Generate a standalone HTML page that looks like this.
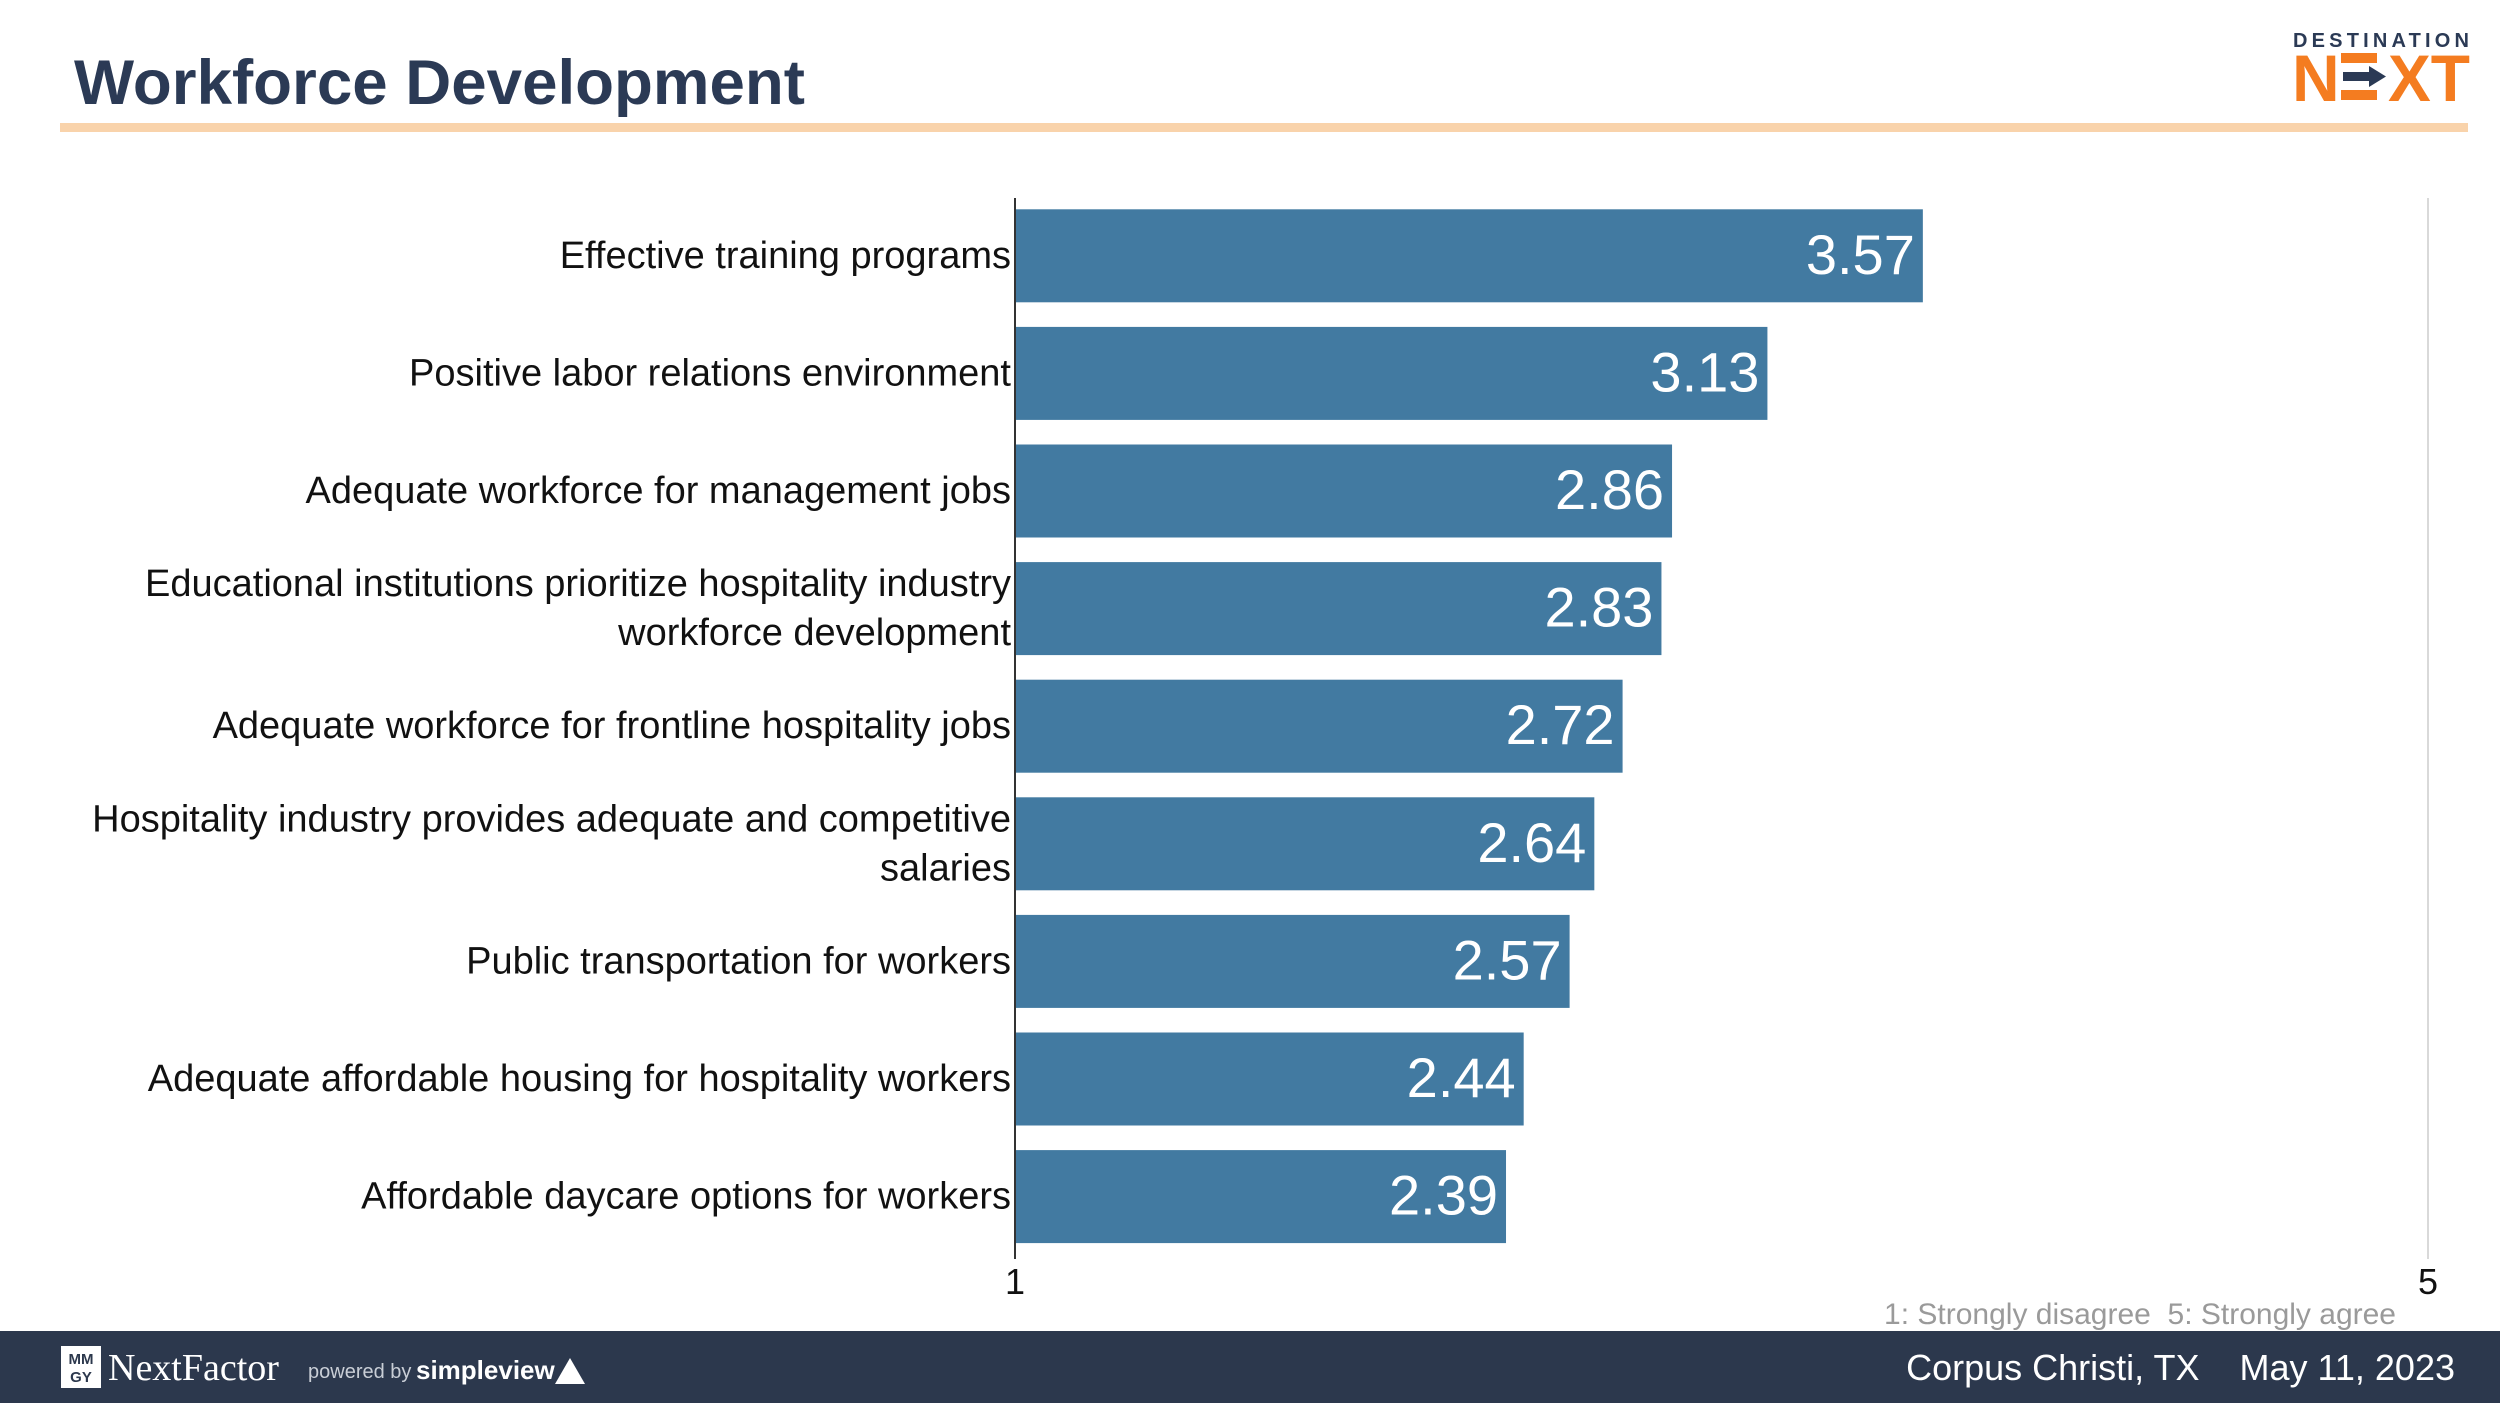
<!DOCTYPE html>
<html><head><meta charset="utf-8">
<style>
html,body{margin:0;padding:0;background:#fff;}
body{width:2500px;height:1407px;overflow:hidden;position:relative;font-family:"Liberation Sans",sans-serif;}
</style></head>
<body>
<svg id="chart" width="2500" height="1407" viewBox="0 0 2500 1407" xmlns="http://www.w3.org/2000/svg" style="position:absolute;left:0;top:0">
  <text x="74" y="104" font-family="Liberation Sans, sans-serif" font-weight="bold" font-size="63" fill="#2b3a55" textLength="731" lengthAdjust="spacingAndGlyphs">Workforce Development</text>
  <rect x="60" y="123" width="2408" height="9" fill="#f9d3ab"/>
  <g>
    <text x="2293" y="47" font-family="Liberation Sans, sans-serif" font-weight="bold" font-size="20" fill="#2b3a55" textLength="176" lengthAdjust="spacing">DESTINATION</text>
    <text x="2292" y="101" font-family="Liberation Sans, sans-serif" font-weight="bold" font-size="66" fill="#f47c20">N</text>
    <text x="2388" y="101" font-family="Liberation Sans, sans-serif" font-weight="bold" font-size="66" fill="#f47c20" textLength="82" lengthAdjust="spacingAndGlyphs">XT</text>
    <rect x="2341" y="53" width="36" height="10" fill="#f47c20"/>
    <rect x="2341" y="90" width="36" height="10" fill="#f47c20"/>
    <rect x="2343" y="72" width="26" height="9" fill="#2b3a55"/>
    <polygon points="2369,66 2386,76.5 2369,87" fill="#2b3a55"/>
  </g>
  <g id="plot"></g>
  <rect x="0" y="1331" width="2500" height="72" fill="#2c384d"/>
  <g>
    <rect x="61" y="1346" width="40" height="42" fill="#fff"/>
    <text x="81" y="1364" font-family="Liberation Sans, sans-serif" font-weight="bold" font-size="15" fill="#2c384d" text-anchor="middle">MM</text>
    <text x="81" y="1382" font-family="Liberation Sans, sans-serif" font-weight="bold" font-size="15" fill="#2c384d" text-anchor="middle">GY</text>
    <text x="108" y="1380" font-family="Liberation Serif, serif" font-size="38" fill="#fff">NextFactor</text>
    <text x="308" y="1378" font-family="Liberation Sans, sans-serif" font-size="20" fill="#c9ced6">powered by</text>
    <text x="416" y="1379" font-family="Liberation Sans, sans-serif" font-weight="bold" font-size="26" fill="#fff">simpleview</text>
    <polygon points="570,1358 585,1384 555,1384" fill="#fff"/>
  </g>
  <text x="2455" y="1380" text-anchor="end" font-family="Liberation Sans, sans-serif" font-size="36" fill="#fff" xml:space="preserve">Corpus Christi, TX    May 11, 2023</text>
  <text x="2396" y="1324" text-anchor="end" font-family="Liberation Sans, sans-serif" font-size="30" fill="#9a9a9a" xml:space="preserve">1: Strongly disagree  5: Strongly agree</text>
</svg>
<script>
const categories = [
  ["Effective training programs"],
  ["Positive labor relations environment"],
  ["Adequate workforce for management jobs"],
  ["Educational institutions prioritize hospitality industry","workforce development"],
  ["Adequate workforce for frontline hospitality jobs"],
  ["Hospitality industry provides adequate and competitive","salaries"],
  ["Public transportation for workers"],
  ["Adequate affordable housing for hospitality workers"],
  ["Affordable daycare options for workers"]
];
const values = [3.57, 3.13, 2.86, 2.83, 2.72, 2.64, 2.57, 2.44, 2.39];
const valueLabels = ["3.57","3.13","2.86","2.83","2.72","2.64","2.57","2.44","2.39"];
const tickValues = [1, 5];
const tickLabels = ["1", "5"];

const NS = "http://www.w3.org/2000/svg";
const plot = document.getElementById("plot");
const xMin = 1, xMax = 5, x0 = 1015, x1 = 2428;
const yTop = 193, band = 117.6, barH = 93;
function xScale(v){ return x0 + (v - xMin) / (xMax - xMin) * (x1 - x0); }
function yScale(i){ return yTop + i * band + (band - barH) / 2 + 4; }
function mk(tag, attrs){ const e = document.createElementNS(NS, tag); for (const k in attrs) e.setAttribute(k, attrs[k]); return e; }

const grid = mk("line", {x1: xScale(5), x2: xScale(5), y1: 198, y2: 1259, stroke: "#d9d9d9", "stroke-width": 2});


plot.appendChild(grid);

values.forEach((v, i) => {
  const y = yScale(i);
  const r = mk("rect", {x: xScale(1), y: y, width: xScale(v) - xScale(1), height: barH, fill: "#427aa1"});
  
  
  plot.appendChild(r);
  const t = mk("text", {x: xScale(v) - 8, y: y + barH/2 + 18, "text-anchor": "end", "font-family": "Liberation Sans, sans-serif", "font-size": "56", fill: "#fff"});
  t.textContent = valueLabels[i];
  
  
  plot.appendChild(t);
  const lines = categories[i];
  const lh = 49;
  const cy = y + barH/2 + 12 - (lines.length - 1) * lh / 2;
  const c = mk("text", {"text-anchor": "end", "font-family": "Liberation Sans, sans-serif", "font-size": "38", fill: "#111"});
  
  
  lines.forEach((ln, j) => {
    const ts = mk("tspan", {x: 1011, y: cy + j * lh});
    ts.textContent = ln;
    c.appendChild(ts);
  });
  plot.appendChild(c);
});

const axis = mk("line", {x1: xScale(1), x2: xScale(1), y1: 198, y2: 1259, stroke: "#333", "stroke-width": 2});


plot.appendChild(axis);

tickValues.forEach((tv, i) => {
  const t = mk("text", {x: xScale(tv), y: 1294, "text-anchor": "middle", "font-family": "Liberation Sans, sans-serif", "font-size": "36", fill: "#111"});
  t.textContent = tickLabels[i];
  
  
  plot.appendChild(t);
});
</script>
</body></html>
